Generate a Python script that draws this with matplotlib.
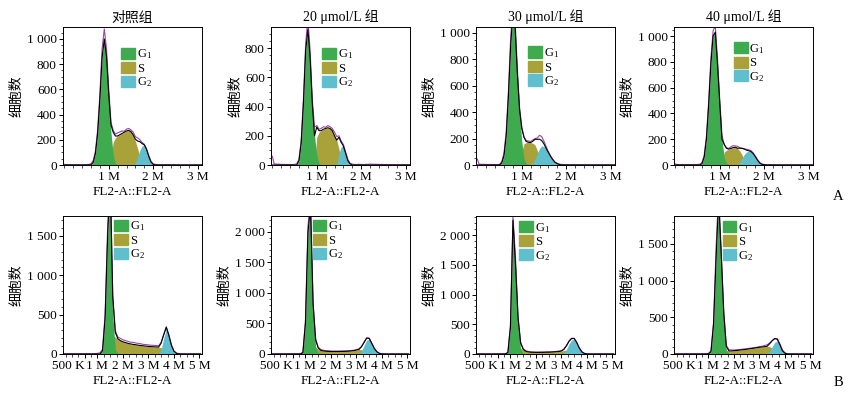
import numpy as np
import matplotlib
matplotlib.use("Agg")
import matplotlib.pyplot as plt
from matplotlib.patches import Patch
from matplotlib.ticker import MultipleLocator

plt.rcParams['font.family'] = ['Liberation Serif', 'Noto Sans CJK SC']
plt.rcParams['mathtext.fontset'] = 'custom'
plt.rcParams['mathtext.rm'] = 'Liberation Serif'
plt.rcParams['mathtext.it'] = 'Liberation Serif:italic'

titles = ['对照组', '20 μmol/L 组', '30 μmol/L 组', '40 μmol/L 组']
phase_names = ['G$_\\mathrm{1}$', 'S', 'G$_\\mathrm{2}$']

# x grid of the histograms, in M (FL2-A)
x_top = [0.00, 0.04, 0.20, 0.45, 0.50, 0.55, 0.60, 0.65, 0.70, 0.75, 0.80, 0.85, 0.90, 0.95,
         1.00, 1.05, 1.10, 1.15, 1.20, 1.25, 1.30, 1.35, 1.40, 1.45, 1.50, 1.55, 1.60, 1.65,
         1.70, 1.75, 1.80, 1.85, 1.90, 1.95, 2.00, 2.05, 2.10, 2.20, 2.40, 2.70, 3.10]
x_bot = [-0.30, 0.50, 0.80, 0.90, 1.00, 1.10, 1.20, 1.30, 1.40, 1.50, 1.60, 1.70, 1.80, 1.90,
         2.00, 2.10, 2.20, 2.30, 2.40, 2.50, 2.60, 2.70, 2.80, 2.90, 3.00, 3.10, 3.20, 3.30,
         3.40, 3.50, 3.60, 3.70, 3.80, 3.90, 4.00, 4.10, 4.20, 4.30, 4.40, 4.60, 5.05]

# ---- row A ----
a1_g1 = [0, 0, 0, 0, 0, 0, 2, 20, 90, 250, 520, 850, 1000, 860, 560, 260, 80, 15, 0, 0,
         0, 0, 0, 0, 0, 0, 0, 0, 0, 0, 0, 0, 0, 0, 0, 0, 0, 0, 0, 0, 0]
a1_s = [0, 0, 0, 0, 0, 0, 0, 0, 0, 0, 0, 0, 0, 0, 0, 60, 180, 215, 230, 240,
        250, 260, 270, 275, 265, 240, 190, 130, 70, 20, 0, 0, 0, 0, 0, 0, 0, 0, 0, 0, 0]
a1_g2 = [0, 0, 0, 0, 0, 0, 0, 0, 0, 0, 0, 0, 0, 0, 0, 0, 0, 0, 0, 0,
         0, 0, 0, 0, 0, 0, 15, 60, 115, 150, 160, 125, 70, 25, 5, 0, 0, 0, 0, 0, 0]
a1_raw = [5, 3, 2, 2, 3, 5, 10, 35, 110, 280, 560, 920, 1080, 920, 600, 340, 275, 245, 255, 262,
          270, 268, 285, 290, 278, 262, 225, 215, 200, 180, 165, 130, 75, 30, 10, 5, 3, 2, 2, 1, 1]

a2_g1 = [0, 0, 0, 0, 0, 0, 30, 150, 420, 780, 930, 740, 420, 200, 70, 10, 0, 0, 0, 0,
         0, 0, 0, 0, 0, 0, 0, 0, 0, 0, 0, 0, 0, 0, 0, 0, 0, 0, 0, 0, 0]
a2_s = [0, 0, 0, 0, 0, 0, 0, 0, 0, 0, 0, 0, 0, 0, 190, 225, 235, 245, 250, 255,
        250, 235, 200, 170, 110, 30, 0, 0, 0, 0, 0, 0, 0, 0, 0, 0, 0, 0, 0, 0, 0]
a2_g2 = [0, 0, 0, 0, 0, 0, 0, 0, 0, 0, 0, 0, 0, 0, 0, 0, 0, 0, 0, 0,
         0, 0, 0, 0, 80, 125, 130, 80, 30, 8, 0, 0, 0, 0, 0, 0, 0, 0, 0, 0, 0]
a2_raw = [60, 8, 4, 3, 4, 8, 40, 170, 450, 830, 1000, 790, 450, 260, 270, 245, 250, 262, 258, 270,
          262, 250, 225, 195, 200, 165, 140, 90, 38, 12, 6, 4, 3, 5, 4, 3, 4, 6, 4, 2, 2]

a3_g1 = [0, 0, 0, 0, 0, 15, 70, 220, 520, 900, 1150, 1050, 700, 420, 180, 50, 8, 0, 0, 0,
         0, 0, 0, 0, 0, 0, 0, 0, 0, 0, 0, 0, 0, 0, 0, 0, 0, 0, 0, 0, 0]
a3_s = [0, 0, 0, 0, 0, 0, 0, 0, 0, 0, 0, 0, 0, 0, 100, 160, 170, 172, 170, 165,
        150, 110, 70, 40, 20, 5, 0, 0, 0, 0, 0, 0, 0, 0, 0, 0, 0, 0, 0, 0, 0]
a3_g2 = [0, 0, 0, 0, 0, 0, 0, 0, 0, 0, 0, 0, 0, 0, 0, 0, 0, 0, 0, 15,
         45, 85, 125, 145, 140, 120, 95, 65, 40, 20, 10, 4, 0, 0, 0, 0, 0, 0, 0, 0, 0]
a3_raw = [45, 6, 4, 3, 5, 25, 90, 250, 560, 960, 1200, 1100, 740, 440, 290, 215, 185, 182, 178, 190,
          200, 205, 225, 215, 180, 140, 100, 68, 42, 22, 12, 6, 4, 3, 3, 2, 2, 2, 1, 1, 1]

a4_g1 = [0, 0, 0, 0, 0, 0, 10, 60, 200, 460, 780, 1000, 1030, 780, 480, 200, 60, 15, 3, 0,
         0, 0, 0, 0, 0, 0, 0, 0, 0, 0, 0, 0, 0, 0, 0, 0, 0, 0, 0, 0, 0]
a4_s = [0, 0, 0, 0, 0, 0, 0, 0, 0, 0, 0, 0, 0, 0, 0, 0, 100, 115, 120, 128,
        135, 138, 130, 110, 80, 45, 15, 3, 0, 0, 0, 0, 0, 0, 0, 0, 0, 0, 0, 0, 0]
a4_g2 = [0, 0, 0, 0, 0, 0, 0, 0, 0, 0, 0, 0, 0, 0, 0, 0, 0, 0, 0, 0,
         0, 0, 0, 20, 50, 80, 100, 108, 105, 90, 65, 38, 15, 5, 2, 0, 0, 0, 0, 0, 0]
a4_raw = [8, 4, 3, 3, 4, 6, 18, 75, 220, 490, 820, 1040, 1080, 820, 510, 230, 160, 135, 128, 140,
          150, 148, 145, 135, 128, 125, 122, 118, 112, 95, 70, 42, 20, 8, 4, 3, 2, 2, 1, 1, 1]

# ---- row B ----
b1_g1 = [0, 0, 0, 0, 0, 0, 40, 450, 1500, 2100, 500, 60, 5, 0, 0, 0, 0, 0, 0, 0,
         0, 0, 0, 0, 0, 0, 0, 0, 0, 0, 0, 0, 0, 0, 0, 0, 0, 0, 0, 0, 0]
b1_s = [0, 0, 0, 0, 0, 0, 0, 0, 0, 150, 230, 215, 190, 170, 155, 145, 135, 128, 122, 118,
        112, 108, 104, 100, 97, 94, 92, 90, 88, 80, 45, 20, 8, 2, 0, 0, 0, 0, 0, 0, 0]
b1_g2 = [0, 0, 0, 0, 0, 0, 0, 0, 0, 0, 0, 0, 0, 0, 0, 0, 0, 0, 0, 0,
         0, 0, 0, 0, 0, 0, 0, 0, 0, 60, 200, 320, 230, 110, 35, 8, 0, 0, 0, 0, 0]
b1_raw = [3, 3, 4, 5, 8, 15, 60, 500, 1600, 2300, 760, 300, 215, 200, 180, 170, 160, 150, 148, 140,
          135, 130, 122, 120, 115, 112, 110, 108, 105, 150, 250, 345, 245, 115, 40, 12, 5, 3, 3, 2, 2]

b2_g1 = [0, 0, 0, 20, 500, 2000, 2400, 700, 120, 20, 0, 0, 0, 0, 0, 0, 0, 0, 0, 0,
         0, 0, 0, 0, 0, 0, 0, 0, 0, 0, 0, 0, 0, 0, 0, 0, 0, 0, 0, 0, 0]
b2_s = [0, 0, 0, 0, 0, 0, 0, 120, 110, 80, 60, 50, 45, 42, 40, 40, 40, 40, 42, 42,
        44, 46, 50, 55, 65, 75, 70, 50, 30, 15, 5, 0, 0, 0, 0, 0, 0, 0, 0, 0, 0]
b2_g2 = [0, 0, 0, 0, 0, 0, 0, 0, 0, 0, 0, 0, 0, 0, 0, 0, 0, 0, 0, 0,
         0, 0, 0, 0, 0, 0, 50, 140, 230, 240, 170, 90, 35, 10, 0, 0, 0, 0, 0, 0, 0]
b2_raw = [3, 3, 4, 30, 540, 2100, 2500, 850, 250, 110, 75, 62, 55, 52, 50, 48, 50, 48, 50, 50,
          52, 55, 58, 62, 72, 85, 125, 195, 265, 260, 180, 95, 40, 12, 5, 3, 3, 2, 2, 2, 2]

b3_g1 = [0, 0, 0, 20, 450, 2250, 1500, 500, 80, 10, 0, 0, 0, 0, 0, 0, 0, 0, 0, 0,
         0, 0, 0, 0, 0, 0, 0, 0, 0, 0, 0, 0, 0, 0, 0, 0, 0, 0, 0, 0, 0]
b3_s = [0, 0, 0, 0, 0, 0, 0, 100, 100, 70, 45, 35, 30, 28, 27, 27, 28, 28, 30, 30,
        32, 35, 38, 42, 50, 60, 60, 45, 25, 10, 3, 0, 0, 0, 0, 0, 0, 0, 0, 0, 0]
b3_g2 = [0, 0, 0, 0, 0, 0, 0, 0, 0, 0, 0, 0, 0, 0, 0, 0, 0, 0, 0, 0,
         0, 0, 0, 0, 0, 20, 80, 170, 235, 250, 190, 100, 35, 8, 0, 0, 0, 0, 0, 0, 0]
b3_raw = [3, 3, 5, 30, 480, 2300, 1600, 620, 200, 90, 55, 42, 36, 34, 32, 32, 33, 33, 35, 36,
          38, 40, 44, 48, 58, 85, 145, 220, 265, 265, 195, 105, 40, 12, 5, 3, 2, 2, 2, 2, 2]

b4_g1 = [0, 0, 0, 0, 0, 30, 400, 1300, 2100, 1300, 500, 60, 0, 0, 0, 0, 0, 0, 0, 0,
         0, 0, 0, 0, 0, 0, 0, 0, 0, 0, 0, 0, 0, 0, 0, 0, 0, 0, 0, 0, 0]
b4_s = [0, 0, 0, 0, 0, 0, 0, 0, 0, 80, 60, 45, 42, 42, 45, 48, 52, 56, 60, 65,
        70, 75, 80, 86, 92, 95, 100, 105, 100, 80, 50, 25, 8, 0, 0, 0, 0, 0, 0, 0, 0]
b4_g2 = [0, 0, 0, 0, 0, 0, 0, 0, 0, 0, 0, 0, 0, 0, 0, 0, 0, 0, 0, 0,
         0, 0, 0, 0, 0, 0, 0, 0, 40, 100, 160, 175, 120, 45, 10, 0, 0, 0, 0, 0, 0]
b4_raw = [2, 2, 3, 4, 8, 45, 430, 1450, 2200, 1400, 600, 120, 60, 55, 55, 58, 60, 65, 68, 72,
          78, 82, 88, 92, 100, 105, 115, 125, 150, 185, 212, 210, 140, 55, 15, 5, 3, 2, 2, 2, 2]

top_panels = [(a1_g1, a1_s, a1_g2, a1_raw), (a2_g1, a2_s, a2_g2, a2_raw),
              (a3_g1, a3_s, a3_g2, a3_raw), (a4_g1, a4_s, a4_g2, a4_raw)]
bot_panels = [(b1_g1, b1_s, b1_g2, b1_raw), (b2_g1, b2_s, b2_g2, b2_raw),
              (b3_g1, b3_s, b3_g2, b3_raw), (b4_g1, b4_s, b4_g2, b4_raw)]

top_ymax = [1095, 945, 1045, 1070]
bot_ymax = [1754, 2260, 2320, 1880]
top_yticks = [[0, 200, 400, 600, 800, 1000], [0, 200, 400, 600, 800],
              [0, 200, 400, 600, 800, 1000], [0, 200, 400, 600, 800, 1000]]
bot_yticks = [[0, 500, 1000, 1500], [0, 500, 1000, 1500, 2000],
              [0, 500, 1000, 1500, 2000], [0, 500, 1000, 1500]]
top_xticks = [1, 2, 3]
top_xlabels = ['1 M', '2 M', '3 M']
bot_xticks = [0.5, 1, 2, 3, 4, 5]
bot_xlabels = ['500 K', '1 M', '2 M', '3 M', '4 M', '5 M']

c_g1 = '#3dab4e'
c_s = '#a9a23a'
c_g2 = '#60bfcc'
c_raw = '#9a45a8'

fig = plt.figure(figsize=(8.52, 3.97), dpi=100)

col_x = [63, 271, 476, 674]
ax_w = 139
row_top = [27, 216]
ax_h = 138
W, H = 852, 397

leg_top = [(0.42, 0.85), (0.37, 0.85), (0.375, 0.86), (0.43, 0.89)]
leg_bot = [(0.37, 0.975), (0.30, 0.975), (0.31, 0.965), (0.35, 0.965)]


def fmt(v):
    return '{:,}'.format(v).replace(',', ' ')


for r in range(2):
    x = np.array(x_top if r == 0 else x_bot)
    panels = top_panels if r == 0 else bot_panels
    for c in range(4):
        ax = fig.add_axes([col_x[c] / W, 1 - (row_top[r] + ax_h) / H, ax_w / W, ax_h / H])
        g1, s, g2, raw = [np.array(v, dtype=float) for v in panels[c]]
        ax.fill_between(x, 0, s, color=c_s, lw=0)
        ax.fill_between(x, 0, g1, color=c_g1, lw=0)
        ax.fill_between(x, 0, g2, color=c_g2, lw=0)
        ax.plot(x, raw, color=c_raw, lw=0.8)
        ax.plot(x, g1 + s + g2, color='black', lw=0.8)

        if r == 0:
            ax.set_xlim(-0.03, 3.1)
            ax.set_ylim(0, top_ymax[c])
            ax.set_xticks(top_xticks)
            ax.set_xticklabels(top_xlabels)
            ax.set_yticks(top_yticks[c])
            ax.xaxis.set_minor_locator(MultipleLocator(0.2))
            ax.yaxis.set_minor_locator(MultipleLocator(50))
            ax.set_yticklabels([fmt(v) for v in top_yticks[c]])
            ax.set_title(titles[c], fontsize=10, pad=4)
            lx, ly = leg_top[c]
        else:
            ax.set_xlim(-0.35, 5.1)
            ax.set_ylim(0, bot_ymax[c])
            ax.set_xticks(bot_xticks)
            ax.set_xticklabels(bot_xlabels)
            ax.get_xticklabels()[0].set_horizontalalignment('right')
            ax.set_yticks(bot_yticks[c])
            ax.xaxis.set_minor_locator(MultipleLocator(0.25))
            ax.yaxis.set_minor_locator(MultipleLocator(100))
            ax.set_yticklabels([fmt(v) for v in bot_yticks[c]])
            lx, ly = leg_bot[c]

        ax.tick_params(which='major', labelsize=9.5, length=3, width=0.7, pad=1.5)
        ax.tick_params(which='minor', length=1.8, width=0.5)
        for sp in ax.spines.values():
            sp.set_linewidth(0.7)
        ax.set_xlabel('FL2-A::FL2-A', fontsize=9.5, labelpad=2)
        ax.set_ylabel('细胞数', fontsize=10, family=['Noto Sans CJK SC'], labelpad=2)

        handles = [Patch(color=c_g1), Patch(color=c_s), Patch(color=c_g2)]
        ax.legend(handles, phase_names, loc='upper left', bbox_to_anchor=(lx, ly),
                  frameon=False, fontsize=9, handlelength=1.1, handleheight=1.0,
                  handletextpad=0.15, labelspacing=0.05, borderpad=0, borderaxespad=0)

fig.text(838 / W, 1 - 197 / H, 'A', fontsize=10.5, ha='center', va='center')
fig.text(838 / W, 1 - 382 / H, 'B', fontsize=10.5, ha='center', va='center')

fig.savefig('out.png', dpi=100)
